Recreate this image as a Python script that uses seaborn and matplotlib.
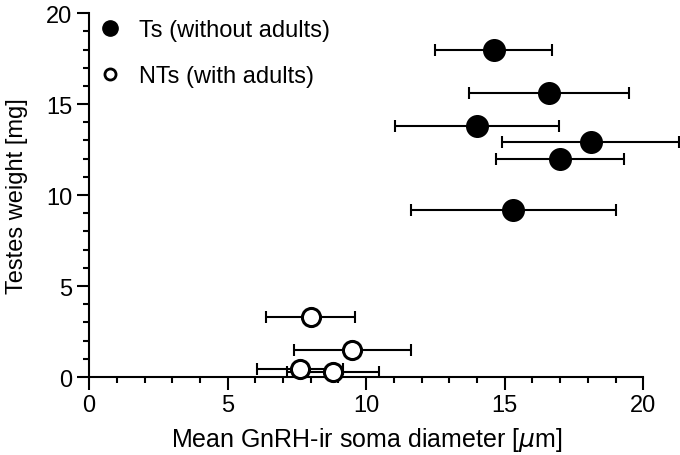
import numpy as np
import pandas as pd
import seaborn as sns
import matplotlib.pyplot as plt
from matplotlib.ticker import MultipleLocator
from matplotlib.lines import Line2D

# Ts (without adults)
ts_diam = [14.6, 16.6, 14.0, 18.1, 17.0, 15.3]
ts_weight = [18.0, 15.6, 13.8, 12.9, 12.0, 9.2]
ts_err = [2.1, 2.9, 2.95, 3.2, 2.3, 3.7]

# NTs (with adults)
nts_diam = [8.0, 9.5, 7.6, 8.8]
nts_weight = [3.3, 1.5, 0.45, 0.3]
nts_err = [1.6, 2.1, 1.55, 1.65]

ts = pd.DataFrame({"diam": ts_diam, "weight": ts_weight, "err": ts_err})
nts = pd.DataFrame({"diam": nts_diam, "weight": nts_weight, "err": nts_err})

sns.set_style("ticks", {"axes.edgecolor": "black", "text.color": "black",
                        "axes.labelcolor": "black", "xtick.color": "black",
                        "ytick.color": "black"})
plt.rcParams['font.family'] = ['Liberation Sans', 'DejaVu Sans']
fs = 17

fig = plt.figure(figsize=(6.8, 4.56), dpi=100)
ax = fig.add_axes([0.131, 0.171, 0.815, 0.798])

for df in (ts, nts):
    ax.errorbar(df["diam"], df["weight"], xerr=df["err"], fmt="none",
                ecolor="black", elinewidth=1.5, capsize=4.5, capthick=1.5,
                clip_on=False, zorder=2)

sns.scatterplot(data=ts, x="diam", y="weight", ax=ax, color="black",
                s=275, edgecolor="black", linewidth=0, zorder=3, clip_on=False)
sns.scatterplot(data=nts, x="diam", y="weight", ax=ax, facecolor="white",
                s=170, edgecolor="black", linewidth=2.2, zorder=3, clip_on=False)

ax.set_xlim(0, 20)
ax.set_ylim(0, 20)
ax.xaxis.set_major_locator(MultipleLocator(5))
ax.xaxis.set_minor_locator(MultipleLocator(1))
ax.yaxis.set_major_locator(MultipleLocator(5))
ax.yaxis.set_minor_locator(MultipleLocator(1))
ax.tick_params(which="major", length=9, width=1.5, labelsize=fs, pad=3,
               direction="out", colors="black")
ax.tick_params(which="minor", length=4.5, width=1.5, direction="out",
               colors="black")
for side in ("left", "bottom"):
    ax.spines[side].set_linewidth(1.5)
sns.despine(ax=ax)

ax.set_xlabel("Mean GnRH-ir soma diameter [$\\mu$m]", fontsize=18, labelpad=6.5,
              color="black")
ax.set_ylabel("Testes weight [mg]", fontsize=fs, labelpad=13, color="black")

handles = [
    Line2D([], [], marker="o", color="black", linestyle="none", markersize=11),
    Line2D([], [], marker="o", markerfacecolor="white", markeredgecolor="black",
           markeredgewidth=2, linestyle="none", markersize=8),
]
leg = ax.legend(handles, ["Ts (without adults)", "NTs (with adults)"],
                loc="upper left", frameon=False, fontsize=fs, handletextpad=0.6,
                labelspacing=1.0, bbox_to_anchor=(0.013, 0.983),
                borderaxespad=0, borderpad=0, handlelength=1.2)
for t in leg.get_texts():
    t.set_color("black")

fig.savefig("out.png", dpi=100)
